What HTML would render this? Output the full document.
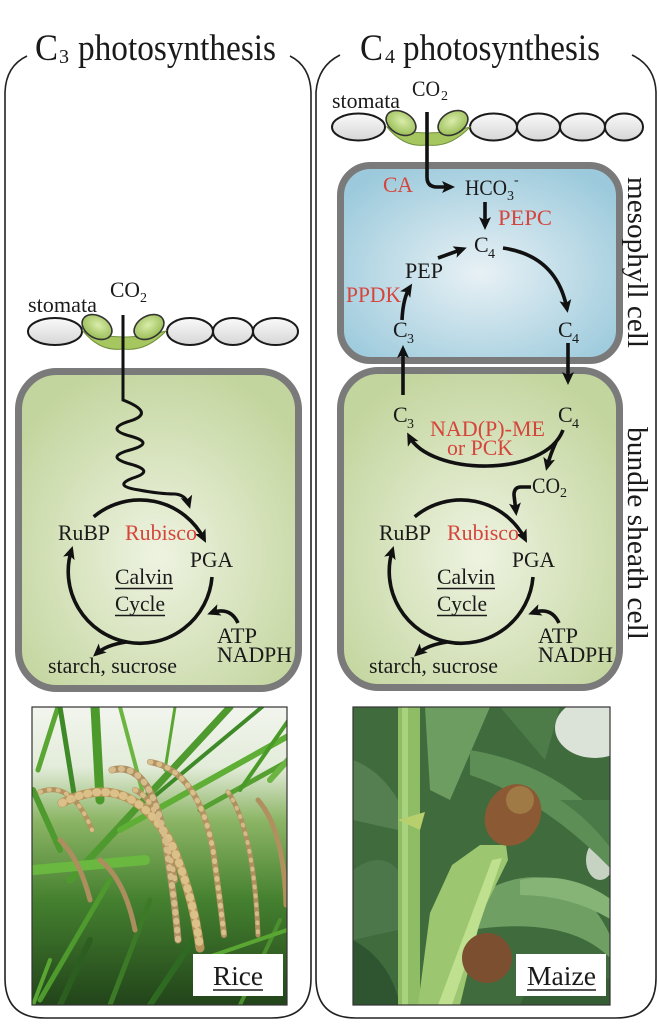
<!DOCTYPE html>
<html><head><meta charset="utf-8">
<style>
html,body{margin:0;padding:0;background:#fff;}
svg{display:block;}
text{font-family:"Liberation Serif","Times New Roman",serif;fill:#1a1a1a;}
.r{fill:#d6453b;}
</style></head><body>
<svg width="659" height="1024" viewBox="0 0 659 1024" xmlns="http://www.w3.org/2000/svg">
<defs>
 <marker id="ah" markerUnits="userSpaceOnUse" markerWidth="16" markerHeight="14" refX="9" refY="6" orient="auto">
  <path d="M0,0 L13,6 L0,12 L3,6 Z" fill="#111"/>
 </marker>
 <radialGradient id="gG" cx="50%" cy="58%" r="62%">
  <stop offset="0" stop-color="#eef3e1"/>
  <stop offset="1" stop-color="#c3d59e"/>
 </radialGradient>
 <radialGradient id="gB" cx="50%" cy="55%" r="62%">
  <stop offset="0" stop-color="#e8f1f5"/>
  <stop offset="1" stop-color="#9ccadc"/>
 </radialGradient>
 <linearGradient id="gW" x1="0" y1="0" x2="0" y2="1">
  <stop offset="0" stop-color="#fafafa"/>
  <stop offset="1" stop-color="#d6d6d6"/>
 </linearGradient>
 <radialGradient id="gGuard" cx="50%" cy="40%" r="60%">
  <stop offset="0" stop-color="#d9ecaa"/>
  <stop offset="1" stop-color="#99bd55"/>
 </radialGradient>
 <linearGradient id="riceBg" x1="0" y1="0" x2="0" y2="1">
  <stop offset="0" stop-color="#f2f5ee"/>
  <stop offset="0.2" stop-color="#e3ecda"/>
  <stop offset="0.38" stop-color="#8cb565"/>
  <stop offset="0.65" stop-color="#44802f"/>
  <stop offset="1" stop-color="#22441a"/>
 </linearGradient>
 <clipPath id="cr"><rect x="32" y="707" width="255" height="298"/></clipPath>
 <clipPath id="cm"><rect x="353" y="707" width="257" height="298"/></clipPath>
</defs>

<!-- Panels -->
<path d="M27,56 Q6,66 5,92 L5,978 Q5,1018 45,1018 L272,1018 Q311,1018 311,978 L311,92 Q310,66 290,56" fill="none" stroke="#222" stroke-width="1.6"/>
<path d="M340,55 Q318,66 316,92 L316,978 Q316,1018 356,1018 L616,1018 Q656,1018 656,978 L656,92 Q655,66 632,55" fill="none" stroke="#222" stroke-width="1.6"/>

<!-- Titles -->
<text x="35" y="60" font-size="37" textLength="23" lengthAdjust="spacingAndGlyphs">C</text>
<text x="59" y="63" font-size="20">3</text>
<text x="78" y="60" font-size="37" textLength="198" lengthAdjust="spacingAndGlyphs">photosynthesis</text>
<text x="360" y="60" font-size="37" textLength="23" lengthAdjust="spacingAndGlyphs">C</text>
<text x="385" y="63" font-size="20">4</text>
<text x="403" y="60" font-size="37" textLength="197" lengthAdjust="spacingAndGlyphs">photosynthesis</text>

<!-- LEFT stomata -->
<text x="28" y="312" font-size="22" textLength="69" lengthAdjust="spacingAndGlyphs">stomata</text>
<text x="110" y="297" font-size="22" textLength="30" lengthAdjust="spacingAndGlyphs">CO</text>
<text x="140" y="302" font-size="14">2</text>
<g stroke="#1a1a1a" stroke-width="2">
 <ellipse cx="55" cy="331.5" rx="27" ry="13.5" fill="url(#gW)"/>
 <ellipse cx="190" cy="331.5" rx="23" ry="13.5" fill="url(#gW)"/>
 <ellipse cx="233" cy="331.5" rx="20" ry="13.5" fill="url(#gW)"/>
 <ellipse cx="275.5" cy="331.5" rx="22.5" ry="13.5" fill="url(#gW)"/>
</g>
<g>
 <path d="M83,331 Q100,352 123,349 Q146,352 166,331 Q123,343 83,331 Z" fill="#a6c660" stroke="#6f8f3a" stroke-width="1"/>
 <ellipse cx="97" cy="327" rx="16" ry="11" transform="rotate(30 97 327)" fill="url(#gGuard)" stroke="#333" stroke-width="1.6"/>
 <ellipse cx="149" cy="327" rx="16" ry="11" transform="rotate(-30 149 327)" fill="url(#gGuard)" stroke="#333" stroke-width="1.6"/>
</g>

<!-- LEFT cell -->
<rect x="18.5" y="371.5" width="280" height="317" rx="38" fill="url(#gG)" stroke="#7a7a7a" stroke-width="7"/>
<path d="M123,315 L123,400 Q156,413 130,421 Q104,429 130,436 Q156,443 130,450 Q104,457 130,464 Q156,471 133,478 Q112,486 139,490 Q160,494 175,494 Q186,495 189,505" fill="none" stroke="#111" stroke-width="3" marker-end="url(#ah)"/>

<!-- LEFT Calvin -->
<g fill="none" stroke="#111" stroke-width="3.6">
 <path d="M93.7,516.8 A72,72 0 0 1 204.2,539.3" marker-end="url(#ah)"/>
 <path d="M212,577 A72,72 0 1 1 71.5,549.8" marker-end="url(#ah)"/>
 <path d="M126,642 Q106,645 96,654" marker-end="url(#ah)"/>
 <path d="M238,623 Q230,606 211,613" marker-end="url(#ah)"/>
</g>
<text x="58" y="540" font-size="22" textLength="52" lengthAdjust="spacingAndGlyphs">RuBP</text>
<text x="125" y="540" font-size="22" class="r" textLength="72" lengthAdjust="spacingAndGlyphs">Rubisco</text>
<text x="190" y="567" font-size="22" textLength="43" lengthAdjust="spacingAndGlyphs">PGA</text>
<text x="115" y="584" font-size="22" textLength="58" lengthAdjust="spacingAndGlyphs">Calvin</text>
<line x1="115" y1="588.5" x2="173" y2="588.5" stroke="#1a1a1a" stroke-width="1.5"/>
<text x="115" y="611" font-size="22" textLength="50" lengthAdjust="spacingAndGlyphs">Cycle</text>
<line x1="115" y1="615.5" x2="165" y2="615.5" stroke="#1a1a1a" stroke-width="1.5"/>
<text x="217" y="643" font-size="22" textLength="40" lengthAdjust="spacingAndGlyphs">ATP</text>
<text x="217" y="662" font-size="22" textLength="75" lengthAdjust="spacingAndGlyphs">NADPH</text>
<text x="48" y="673" font-size="22" textLength="129" lengthAdjust="spacingAndGlyphs">starch, sucrose</text>

<!-- RIGHT stomata -->
<text x="332" y="108" font-size="22" textLength="68" lengthAdjust="spacingAndGlyphs">stomata</text>
<text x="412" y="96" font-size="22" textLength="28" lengthAdjust="spacingAndGlyphs">CO</text>
<text x="441" y="100" font-size="14">2</text>
<g stroke="#1a1a1a" stroke-width="2">
 <ellipse cx="358.5" cy="127" rx="26.5" ry="13.5" fill="url(#gW)"/>
 <ellipse cx="493.5" cy="127" rx="23.5" ry="13.5" fill="url(#gW)"/>
 <ellipse cx="538.5" cy="127" rx="21.5" ry="13.5" fill="url(#gW)"/>
 <ellipse cx="582.5" cy="127" rx="22.5" ry="13.5" fill="url(#gW)"/>
 <ellipse cx="624" cy="127" rx="19" ry="13.5" fill="url(#gW)"/>
</g>
<g transform="translate(304,-204)">
 <path d="M83,331 Q100,352 123,349 Q146,352 166,331 Q123,343 83,331 Z" fill="#a6c660" stroke="#6f8f3a" stroke-width="1"/>
 <ellipse cx="97" cy="327" rx="16" ry="11" transform="rotate(30 97 327)" fill="url(#gGuard)" stroke="#333" stroke-width="1.6"/>
 <ellipse cx="149" cy="327" rx="16" ry="11" transform="rotate(-30 149 327)" fill="url(#gGuard)" stroke="#333" stroke-width="1.6"/>
</g>

<!-- Mesophyll & bundle sheath -->
<rect x="340.5" y="165.5" width="279" height="195" rx="30" fill="url(#gB)" stroke="#7a7a7a" stroke-width="7"/>
<rect x="340.5" y="370.5" width="279" height="317" rx="38" fill="url(#gG)" stroke="#7a7a7a" stroke-width="7"/>

<g fill="none" stroke="#111" stroke-width="3.6">
 <path d="M427,112 L427,177 Q427,187 437,187 L451,187" marker-end="url(#ah)"/>
 <path d="M485,202 L485,226" marker-end="url(#ah)"/>
 <path d="M438,258 L463,249" marker-end="url(#ah)"/>
 <path d="M402,320 Q403,298 410,287" marker-end="url(#ah)"/>
 <path d="M503,248 Q557,256 567,309" marker-end="url(#ah)"/>
 <path d="M568,343 L568,381" marker-end="url(#ah)"/>
 <path d="M403,395 L403,349" marker-end="url(#ah)"/>
 <path d="M563,430 C545,478 430,476 409,436" marker-end="url(#ah)"/>
 <path d="M556,442 Q550,455 547,467" marker-end="url(#ah)"/>
 <path d="M531,487 L521,487 Q514,487 514,495 L516,512" marker-end="url(#ah)"/>
</g>

<text x="383" y="192" font-size="22" class="r" textLength="30" lengthAdjust="spacingAndGlyphs">CA</text>
<text x="465" y="195" font-size="22" textLength="42" lengthAdjust="spacingAndGlyphs">HCO</text>
<text x="507" y="200" font-size="14">3</text>
<text x="514" y="184" font-size="14">-</text>
<text x="498" y="225" font-size="22" class="r" textLength="54" lengthAdjust="spacingAndGlyphs">PEPC</text>
<text x="474" y="252" font-size="22">C</text><text x="488" y="258" font-size="14">4</text>
<text x="405" y="278" font-size="22" textLength="38" lengthAdjust="spacingAndGlyphs">PEP</text>
<text x="346" y="302" font-size="22" class="r" textLength="55" lengthAdjust="spacingAndGlyphs">PPDK</text>
<text x="393" y="337" font-size="22">C</text><text x="407" y="343" font-size="14">3</text>
<text x="558" y="337" font-size="22">C</text><text x="572" y="343" font-size="14">4</text>

<text x="393" y="422" font-size="22">C</text><text x="407" y="428" font-size="14">3</text>
<text x="558" y="422" font-size="22">C</text><text x="572" y="428" font-size="14">4</text>
<text x="430" y="436" font-size="22" class="r" textLength="115" lengthAdjust="spacingAndGlyphs">NAD(P)-ME</text>
<text x="447" y="455" font-size="22" class="r" textLength="66" lengthAdjust="spacingAndGlyphs">or PCK</text>
<text x="532" y="493" font-size="22" textLength="28" lengthAdjust="spacingAndGlyphs">CO</text>
<text x="560" y="497" font-size="14">2</text>

<!-- RIGHT Calvin -->
<g transform="translate(321,0)">
<g fill="none" stroke="#111" stroke-width="3.6">
 <path d="M93.7,516.8 A72,72 0 0 1 204.2,539.3" marker-end="url(#ah)"/>
 <path d="M212,577 A72,72 0 1 1 71.5,549.8" marker-end="url(#ah)"/>
 <path d="M126,642 Q106,645 96,654" marker-end="url(#ah)"/>
 <path d="M238,623 Q230,606 211,613" marker-end="url(#ah)"/>
</g>
<text x="58" y="540" font-size="22" textLength="52" lengthAdjust="spacingAndGlyphs">RuBP</text>
<text x="126" y="540" font-size="22" class="r" textLength="72" lengthAdjust="spacingAndGlyphs">Rubisco</text>
<text x="191" y="567" font-size="22" textLength="43" lengthAdjust="spacingAndGlyphs">PGA</text>
<text x="116" y="584" font-size="22" textLength="58" lengthAdjust="spacingAndGlyphs">Calvin</text>
<line x1="116" y1="588.5" x2="174" y2="588.5" stroke="#1a1a1a" stroke-width="1.5"/>
<text x="116" y="611" font-size="22" textLength="50" lengthAdjust="spacingAndGlyphs">Cycle</text>
<line x1="116" y1="615.5" x2="166" y2="615.5" stroke="#1a1a1a" stroke-width="1.5"/>
<text x="217" y="643" font-size="22" textLength="40" lengthAdjust="spacingAndGlyphs">ATP</text>
<text x="217" y="662" font-size="22" textLength="75" lengthAdjust="spacingAndGlyphs">NADPH</text>
<text x="48" y="673" font-size="22" textLength="129" lengthAdjust="spacingAndGlyphs">starch, sucrose</text>
</g>

<!-- Vertical labels -->
<text transform="translate(628,177) rotate(90)" font-size="28" textLength="171" lengthAdjust="spacingAndGlyphs">mesophyll cell</text>
<text transform="translate(628,427) rotate(90)" font-size="28" textLength="213" lengthAdjust="spacingAndGlyphs">bundle sheath cell</text>

<!-- RICE photo -->
<g clip-path="url(#cr)">
 <rect x="32" y="707" width="255" height="298" fill="url(#riceBg)"/>
 <g fill="none" stroke-linecap="round">
  <path d="M95,707 L100,800" stroke="#4d9a2c" stroke-width="9"/>
  <path d="M38,770 L58,707" stroke="#5aa632" stroke-width="5"/>
  <path d="M70,880 L230,707" stroke="#4f9a2e" stroke-width="7"/>
  <path d="M120,830 L290,735" stroke="#5fae35" stroke-width="6"/>
  <path d="M150,800 L262,707" stroke="#3f8a28" stroke-width="4"/>
  <path d="M200,810 L290,760" stroke="#55a030" stroke-width="5"/>
  <path d="M240,790 L290,718" stroke="#4a9a2a" stroke-width="4"/>
  <path d="M120,707 L142,790" stroke="#6cb543" stroke-width="4"/>
  <path d="M175,707 L165,770" stroke="#5aa632" stroke-width="3"/>
  <path d="M60,707 L75,800" stroke="#3f8a28" stroke-width="5"/>
  <path d="M33,790 L60,850" stroke="#4f9a2e" stroke-width="6"/>
  <path d="M270,780 L288,760" stroke="#6cb543" stroke-width="6"/>
  <path d="M33,870 L145,860" stroke="#6ab840" stroke-width="10"/>
  <path d="M40,1000 L110,880" stroke="#4f9a2e" stroke-width="5"/>
  <path d="M110,1005 L150,900" stroke="#3c7a28" stroke-width="5"/>
  <path d="M240,1005 L280,920" stroke="#4c8f2e" stroke-width="4"/>
  <path d="M200,960 L287,930" stroke="#5aa632" stroke-width="4"/>
  <path d="M50,960 L33,1005" stroke="#5aa632" stroke-width="4"/>
  <path d="M150,1005 L200,930" stroke="#2f6a22" stroke-width="6"/>
  <path d="M60,1005 L90,940" stroke="#2c5e20" stroke-width="6"/>
 </g>
 <g fill="none" stroke-linecap="round">
  <path d="M62,803 Q130,768 172,845 Q193,895 200,948" stroke="#b8955c" stroke-width="9"/>
  <path d="M112,770 Q150,760 165,840 Q175,900 178,940" stroke="#ae9062" stroke-width="7"/>
  <path d="M150,762 Q198,770 213,850 Q220,900 224,935" stroke="#b39362" stroke-width="6"/>
  <path d="M228,792 Q254,830 258,935" stroke="#ae8f5f" stroke-width="5"/>
  <path d="M40,792 Q72,780 92,830" stroke="#b3935f" stroke-width="5"/>
  <path d="M258,800 Q284,830 286,905" stroke="#b0905e" stroke-width="5"/>
  <path d="M100,860 Q125,880 135,930" stroke="#ab8d5e" stroke-width="5"/>
  <path d="M60,840 Q80,860 90,900" stroke="#ad8e5f" stroke-width="5"/>
  <path d="M135,790 Q160,800 175,880" stroke="#b29260" stroke-width="6"/>
 </g>
 <g fill="none" stroke-linecap="round" stroke-dasharray="1 8">
  <path d="M62,803 Q130,768 172,845 Q193,895 200,948" stroke="#dcc08a" stroke-width="8"/>
  <path d="M112,770 Q150,760 165,840 Q175,900 178,940" stroke="#d6bc8c" stroke-width="6"/>
  <path d="M150,762 Q198,770 213,850 Q220,900 224,935" stroke="#d9bf8b" stroke-width="5"/>
  <path d="M228,792 Q254,830 258,935" stroke="#d4ba88" stroke-width="4"/>
  <path d="M40,792 Q72,780 92,830" stroke="#d8bd8a" stroke-width="4"/>
  <path d="M135,790 Q160,800 175,880" stroke="#d8bd8a" stroke-width="5"/>
 </g>
</g>
<rect x="32" y="707" width="255" height="298" fill="none" stroke="#333" stroke-width="1.2"/>
<rect x="193" y="954" width="90" height="42" fill="#fff"/>
<text x="213" y="985" font-size="27" textLength="50" lengthAdjust="spacingAndGlyphs">Rice</text>
<line x1="213" y1="990" x2="263" y2="990" stroke="#1a1a1a" stroke-width="1.5"/>

<!-- MAIZE photo -->
<g clip-path="url(#cm)">
 <rect x="353" y="707" width="257" height="298" fill="#3f6b3d"/>
 <ellipse cx="595" cy="728" rx="40" ry="30" fill="#dbe3d9"/>
 <ellipse cx="600" cy="860" rx="14" ry="20" fill="#c6d3c3"/>
 <path d="M425,707 L490,707 L450,800 L430,790 Z" fill="#6e9d61"/>
 <path d="M470,750 Q560,765 612,830 L612,870 Q545,800 470,775 Z" fill="#5d8e56"/>
 <path d="M500,707 L560,707 L545,760 Z" fill="#4d7c49"/>
 <path d="M353,760 Q380,770 398,800 L398,830 L353,820 Z" fill="#567f51"/>
 <path d="M353,870 Q380,850 398,870 L398,930 L353,940 Z" fill="#4b774a"/>
 <path d="M470,900 Q530,860 575,890 Q600,910 612,940 L612,960 Q570,915 470,930 Z" fill="#6f9f63"/>
 <path d="M520,880 Q570,870 612,900 L612,920 Q570,895 520,895 Z" fill="#86b476"/>
 <path d="M560,800 Q590,820 612,850 L612,800 Z" fill="#4a7a47"/>
 <path d="M353,940 Q390,960 400,1005 L353,1005 Z" fill="#2f5530"/>
 <path d="M540,960 L612,980 L612,1005 L520,1005 Z" fill="#355e35"/>
 <rect x="398" y="707" width="22" height="298" fill="#8ebd66"/>
 <rect x="402" y="707" width="6" height="298" fill="#a8d27e"/>
 <path d="M398,820 L425,812 L420,830 Z" fill="#b7cf6c"/>
 <path d="M418,1005 L460,1005 L482,913 L508,860 L506,845 L480,845 L452,865 L430,913 Z" fill="#9cc66f"/>
 <path d="M438,1005 L492,860 L502,858 L452,1005 Z" fill="#bfe08f"/>
 <ellipse cx="513" cy="815" rx="27" ry="32" transform="rotate(30 513 815)" fill="#8b5a34"/>
 <ellipse cx="520" cy="800" rx="14" ry="14" fill="#a07a45"/>
 <ellipse cx="487" cy="958" rx="25" ry="25" fill="#7c4f31"/>
</g>
<rect x="353" y="707" width="257" height="298" fill="none" stroke="#333" stroke-width="1.2"/>
<rect x="516" y="954" width="90" height="42" fill="#fff"/>
<text x="527" y="985" font-size="27" textLength="69" lengthAdjust="spacingAndGlyphs">Maize</text>
<line x1="527" y1="990" x2="596" y2="990" stroke="#1a1a1a" stroke-width="1.5"/>
</svg>
</body></html>
